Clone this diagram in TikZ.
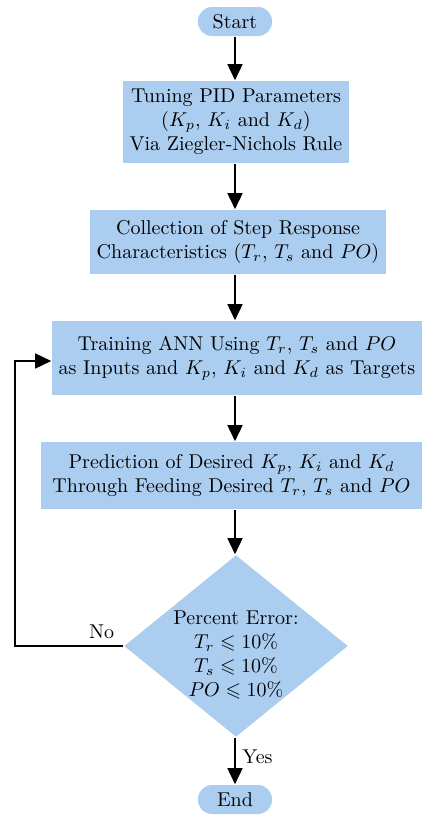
\documentclass[tikz,border=0pt]{standalone}
\usepackage{amsmath,amssymb}
\usetikzlibrary{arrows.meta,shapes.geometric}
\definecolor{boxblue}{RGB}{171,205,239}

\begin{document}
\begin{tikzpicture}[>={Triangle[length=8pt,width=7.5pt]}, thick,
    procbox/.style={fill=boxblue, align=center, inner sep=3.33pt},
    termbox/.style={fill=boxblue, rounded corners=7pt, minimum width=37pt, minimum height=14.5pt},
    decbox/.style={diamond, fill=boxblue, inner sep=0pt, minimum width=112pt, minimum height=91pt}]
    \useasboundingbox (-117.5pt, 10.75pt) rectangle (95pt, -396.75pt);

    % 开始与各步骤
    \node[termbox] (start) at (0, 0) {Start};
    \node[procbox, minimum width=112pt, minimum height=41pt] (tune) at (0.5pt, -50.25pt)
        {Tuning PID Parameters\\ ($K_p$, $K_i$ and $K_d$)\\ Via Ziegler-Nichols Rule};
    \node[procbox, minimum width=148pt, minimum height=32pt] (collect) at (1.5pt, -110.25pt)
        {Collection of Step Response\\ Characteristics ($T_r$, $T_s$ and $PO$)};
    \node[procbox, minimum width=185pt, minimum height=37pt] (train) at (1pt, -168.25pt)
        {Training ANN Using $T_r$, $T_s$ and $PO$\\ as Inputs and $K_p$, $K_i$ and $K_d$ as Targets};
    \node[procbox, minimum width=190.5pt, minimum height=33.5pt] (predict) at (-1.75pt, -227pt)
        {Prediction of Desired $K_p$, $K_i$ and $K_d$\\ Through Feeding Desired $T_r$, $T_s$ and $PO$};

    % 判断与结束
    \node[decbox] (dec) at (0.5pt, -312.25pt) {};
    \node[align=center] (dectext) at ([yshift=-4.5pt]dec.center)
        {Percent Error:\\ $T_r \leqslant 10\%$\\ $T_s \leqslant 10\%$\\ $PO \leqslant 10\%$};
    \node[termbox] (end) at (0, -389pt) {End};

    % 箭头（竖直）
    \draw[->] (start) -- (start |- tune.north);
    \draw[->] (start |- tune.south) -- (start |- collect.north);
    \draw[->] (start |- collect.south) -- (start |- train.north);
    \draw[->] (start |- train.south) -- (start |- predict.north);
    \draw[->] (start |- predict.south) -- (start |- dec.north);
    \draw[->] (start |- dec.south) -- node[right, pos=0.4] {Yes} (end);

    % 反馈回路
    \coordinate (back) at ([xshift=-54pt]dec.west);
    \draw[->] (dec.west) -- node[above, pos=0.2] {No} (back) |- ([yshift=-1.5pt]train.west);
\end{tikzpicture}
\end{document}
